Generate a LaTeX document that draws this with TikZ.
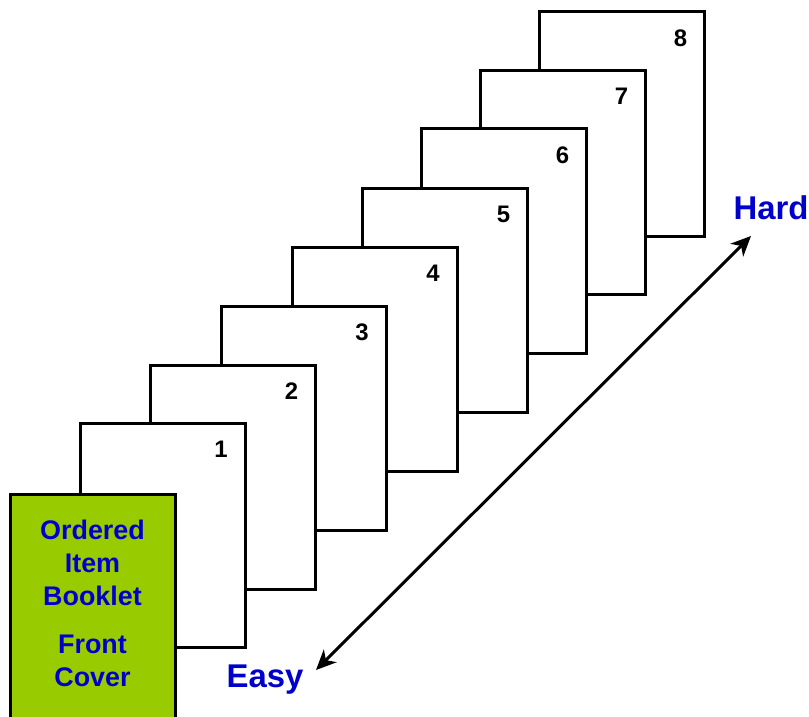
\documentclass[tikz,border=0pt]{standalone}
\usepackage{fontspec}
\setmainfont{Liberation Sans}
\usetikzlibrary{arrows.meta}
\definecolor{covergreen}{HTML}{99CC00}
\definecolor{labelblue}{HTML}{0000CC}
\tikzset{
  page/.style={draw=black, fill=white, line width=3bp, minimum width=165bp, minimum height=224bp, inner sep=0pt, outer sep=0pt},
  cover/.style={draw=black, fill=covergreen, line width=3bp, minimum width=165bp, minimum height=240bp, inner sep=0pt, outer sep=0pt},
  pagenum/.style={font=\bfseries\fontsize{24}{24}\selectfont, text=black},
  covertext/.style={font=\bfseries\fontsize{27}{33}\selectfont, text=labelblue, align=center},
  endlabel/.style={font=\bfseries\fontsize{33}{33}\selectfont, text=labelblue},
  tip/.style={Stealth[length=20bp, width=18bp, inset=6bp]},
  scale arrow/.style={{Stealth[length=20bp, width=18bp, inset=6bp]}-{Stealth[length=20bp, width=18bp, inset=6bp]}, line width=3bp}
}
\begin{document}
\begin{tikzpicture}[x=1bp, y=-1bp]
\useasboundingbox (0,0) rectangle (809,717);
% pages from back to front
\foreach \n/\l/\t in {8/539.5/12, 7/480.5/70.5, 6/421.5/129, 5/362.5/188, 4/292/247, 3/221/306, 2/150.5/365, 1/80/423}{
  \node[page, anchor=north west] (p\n) at (\l,\t) {};
  \node[pagenum] (n\n) at ([xshift=-24bp, yshift=-26bp]p\n.north east) {\n};
}
\node[cover, anchor=north west] (cover) at (10,494) {};
\node[covertext] (ct1) at (92.5,563) {Ordered\\Item\\Booklet};
\node[covertext] (ct2) at (92.5,661) {Front\\Cover};
\node[endlabel, anchor=west] (hard) at (730,208) {Hard};
\node[endlabel, anchor=east] (easy) at (307,680) {Easy};
\coordinate (a1) at (316,670);
\coordinate (a2) at (751,236);
\draw[scale arrow] (a1) -- (a2);
\end{tikzpicture}
\end{document}
